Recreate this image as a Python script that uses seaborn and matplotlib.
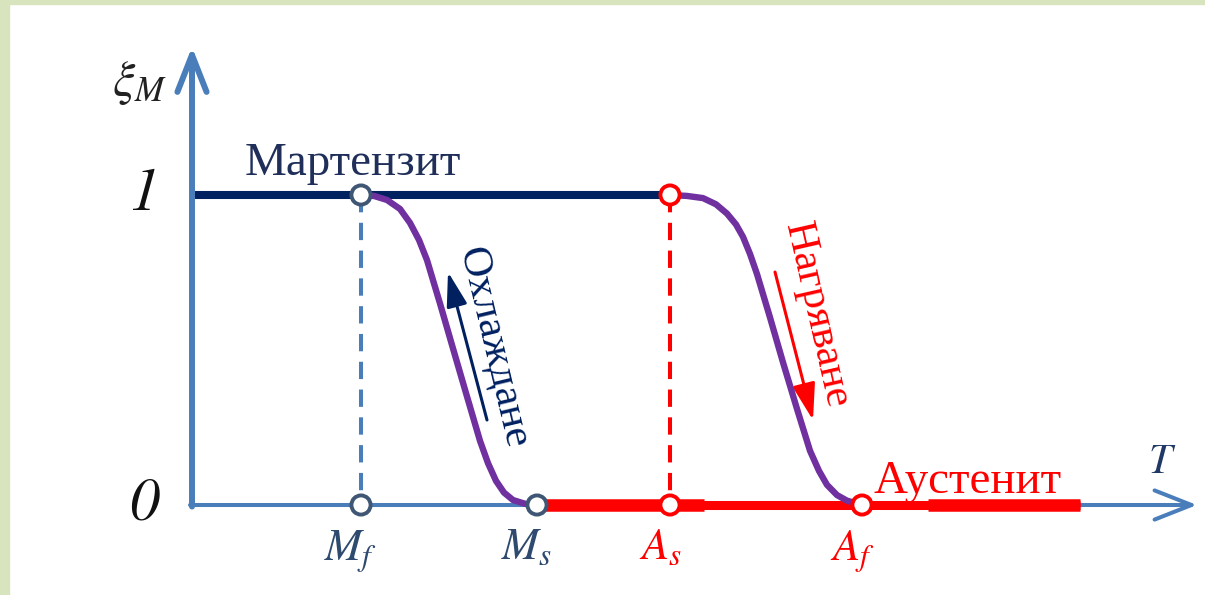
import matplotlib
matplotlib.use("Agg")
import matplotlib.pyplot as plt
import numpy as np
import pandas as pd
import seaborn as sns
from matplotlib.patches import Rectangle

# Characteristic transformation temperatures (arbitrary units)
point_labels = [r"$M_f$", r"$M_s$", r"$A_s$", r"$A_f$"]
point_T = [1.69, 3.45, 4.78, 6.70]
T_austenite_end = 8.88

# Martensite fraction levels shown on the vertical axis
xi_levels = [1, 0]
xi_level_labels = ["1", "0"]

# Cooling branch: martensite forms between M_s and M_f
cooling_T = [1.69, 1.82, 1.95, 2.08, 2.18, 2.27, 2.35, 2.48, 2.61, 2.75,
             2.88, 2.96, 3.04, 3.12, 3.21, 3.33, 3.45]
cooling_xi = [1.0, 0.997, 0.984, 0.955, 0.91, 0.855, 0.79, 0.65, 0.505, 0.35,
              0.207, 0.135, 0.078, 0.04, 0.016, 0.004, 0.0]

# Heating branch: austenite forms between A_s and A_f
heating_T = [4.78, 4.95, 5.11, 5.24, 5.35, 5.44, 5.51, 5.58, 5.65, 5.78, 5.91,
             6.05, 6.18, 6.27, 6.35, 6.45, 6.55, 6.70]
heating_xi = [1.0, 0.997, 0.99, 0.97, 0.94, 0.905, 0.865, 0.81, 0.745, 0.605,
              0.46, 0.31, 0.175, 0.11, 0.065, 0.032, 0.014, 0.0]

axis_blue = "#4A7EBB"
navy = "#002060"
purple = "#7030A0"
red = "#FF0000"
slate = "#3F5675"
label_slate = "#2E4A6E"
frame_green = "#D7E4BD"

sns.set_style("white")
plt.rcParams["font.family"] = ["Liberation Serif", "DejaVu Serif"]
plt.rcParams["mathtext.fontset"] = "stix"

fig = plt.figure(figsize=(12.05, 5.95), dpi=100)
ax = fig.add_axes([0, 0, 1, 1])
ax.set_xlim(-1.92, 10.13)
ax.set_ylim(-90 / 310, 505 / 310)
ax.axis("off")

# Light green frame along the top and left edges
fig.add_artist(Rectangle((0, 0), 9 / 1205, 1, transform=fig.transFigure,
                         color=frame_green, zorder=0))
fig.add_artist(Rectangle((0, 1 - 4 / 595), 1, 4 / 595, transform=fig.transFigure,
                         color=frame_green, zorder=0))

# Coordinate axes with open arrow heads
ax.annotate("", xy=(0, 1.478), xytext=(0, -0.005),
            arrowprops=dict(arrowstyle="->,head_length=2.66,head_width=1.05",
                            mutation_scale=10, lw=4.3, color=axis_blue,
                            shrinkA=0, shrinkB=0), zorder=1)
ax.annotate("", xy=(10.05, 0), xytext=(-0.02, 0),
            arrowprops=dict(arrowstyle="->,head_length=2.66,head_width=1.05",
                            mutation_scale=10, lw=2.9, color=axis_blue,
                            shrinkA=0, shrinkB=0), zorder=1)


def draw_line(x, y, **kws):
    sns.lineplot(x=x, y=y, estimator=None, sort=False, ax=ax, **kws)


# Dashed guides from the transformation points up to xi = 1
draw_line([point_T[0], point_T[0]], xi_levels, color=axis_blue, lw=2.9,
          linestyle=(0, (4.3, 2.6)), zorder=2)
draw_line([point_T[2], point_T[2]], xi_levels, color=red, lw=2.9,
          linestyle=(0, (4.3, 2.6)), zorder=2)

# Pure martensite and pure austenite plateaus
draw_line([0.03, point_T[2]], [1, 1], color=navy, lw=5.8, zorder=3)
draw_line([point_T[1], T_austenite_end], [0, 0], color=red, lw=6.5, zorder=3)
draw_line([point_T[1], 5.12], [0, 0], color=red, lw=9.0, zorder=3)
draw_line([7.36, T_austenite_end], [0, 0], color=red, lw=9.0, zorder=3)

# Transformation curves
cool = pd.DataFrame({"T": cooling_T, "xi": cooling_xi})
heat = pd.DataFrame({"T": heating_T, "xi": heating_xi})
for df in (cool, heat):
    sns.lineplot(data=df, x="T", y="xi", estimator=None, sort=False,
                 color=purple, lw=4.6, ax=ax, zorder=4)
for ln in ax.lines:
    ln.set_solid_capstyle("butt")
    ln.set_solid_joinstyle("round")

# Markers at the characteristic temperatures
marker_df = pd.DataFrame({
    "T": point_T + [point_T[0], point_T[2]],
    "xi": [0, 0, 0, 0, 1, 1],
    "kind": ["M", "M", "A", "A", "M", "A"],
})
sns.scatterplot(data=marker_df, x="T", y="xi", hue="kind",
                palette={"M": slate, "A": red}, marker="o", s=190,
                legend=False, ax=ax, zorder=5)
pts = ax.collections[-1]
pts.set_facecolor("white")
pts.set_edgecolor([{"M": slate, "A": red}[k] for k in marker_df["kind"]])
pts.set_linewidth(2.8)

# Labels of the characteristic temperatures
label_colors = [label_slate, label_slate, red, red]
for lab, t, c in zip(point_labels, point_T, label_colors):
    ax.text(t - 0.1, -0.075, lab, ha="center", va="top", fontsize=32, color=c)

# Vertical axis values and axis titles
for lev, lab in zip(xi_levels, xi_level_labels):
    ax.text(-0.48, lev, lab, ha="center", va="center", fontsize=43,
            family="STIXGeneral", style="italic", color="#111111")
ax.text(-0.52, 1.36, r"$\xi_M$", ha="center", va="center", fontsize=36,
        color="#222222")
ax.text(9.70, 0.135, r"$T$", ha="center", va="center", fontsize=30,
        color="#1F3864")

# Phase names
ax.text(0.53, 1.065, "Мартензит", ha="left", va="baseline", fontsize=33.8,
        color="#1F2F5A")
ax.text(6.81, 0.039, "Аустенит", ha="left", va="baseline", fontsize=33.8,
        color=red)

# Direction of transformation along each branch
ax.text(3.01, (505 - 348) / 310, "Охлаждане", rotation=-76.6,
        rotation_mode="anchor", ha="center", va="center", fontsize=31,
        color=navy)
ax.annotate("", xy=(2.56, (505 - 272) / 310), xytext=(2.95, (505 - 420) / 310),
            arrowprops=dict(arrowstyle="-|>,head_length=1.5,head_width=0.45",
                            mutation_scale=14, lw=2.2, color=navy,
                            shrinkA=0, shrinkB=0))
ax.text(6.25, (505 - 315) / 310, "Нагряване", rotation=-77.2,
        rotation_mode="anchor", ha="center", va="center", fontsize=31,
        color=red)
ax.annotate("", xy=(6.21, (505 - 420) / 310), xytext=(5.83, (505 - 272) / 310),
            arrowprops=dict(arrowstyle="-|>,head_length=1.6,head_width=0.5",
                            mutation_scale=14, lw=2.2, color=red,
                            shrinkA=0, shrinkB=0))

fig.savefig("out.png", dpi=100, facecolor="white")
